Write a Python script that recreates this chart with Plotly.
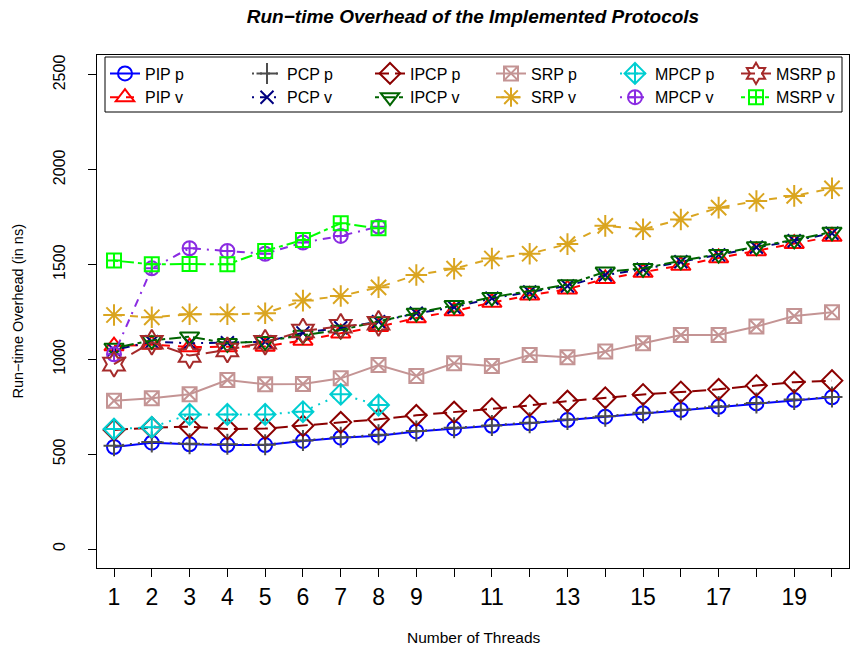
import plotly.graph_objects as go

# Thread counts
threads = list(range(1, 21))
threads_short = list(range(1, 9))

# Run-time overhead in ns, per protocol
pip_p = [538, 561, 552, 548, 548, 570, 587, 598, 620, 636, 650, 663, 680, 698, 716, 733, 750, 768, 786, 800]
pip_v = [1070, 1078, 1065, 1065, 1068, 1100, 1138, 1172, 1218, 1255, 1300, 1338, 1370, 1425, 1458, 1495, 1535, 1572, 1610, 1648]
pcp_p = [545, 565, 555, 552, 550, 572, 590, 602, 622, 640, 652, 666, 683, 700, 718, 735, 752, 770, 788, 802]
pcp_v = [1050, 1093, 1085, 1088, 1093, 1140, 1167, 1199, 1243, 1275, 1322, 1355, 1387, 1445, 1475, 1515, 1551, 1591, 1626, 1665]
ipcp_p = [628, 640, 645, 633, 635, 650, 668, 684, 705, 722, 740, 757, 780, 798, 815, 828, 842, 862, 880, 888]
ipcp_v = [1060, 1100, 1120, 1085, 1095, 1128, 1155, 1200, 1245, 1285, 1328, 1360, 1395, 1462, 1480, 1520, 1555, 1595, 1630, 1672]
srp_p = [782, 795, 816, 891, 869, 870, 900, 970, 913, 979, 965, 1023, 1011, 1041, 1085, 1129, 1129, 1173, 1229, 1248]
srp_v = [1234, 1222, 1238, 1238, 1243, 1310, 1334, 1380, 1445, 1478, 1532, 1557, 1608, 1704, 1686, 1738, 1800, 1835, 1862, 1902]
mpcp_p = [633, 642, 710, 710, 710, 724, 816, 759]
mpcp_v = [1027, 1480, 1586, 1572, 1557, 1616, 1651, 1700]
msrp_p = [975, 1090, 1020, 1050, 1090, 1150, 1175, 1190]
msrp_v = [1521, 1501, 1503, 1501, 1572, 1630, 1718, 1691]

# name, x, y, colour, symbol, dash, marker size, legend column
series = [
    ("PIP p", threads, pip_p, "#0000FF", "circle-open", "solid", 14, 1),
    ("PIP v", threads, pip_v, "#FF0000", "triangle-up-open", "8px,8px", 17, 1),
    ("PCP p", threads, pcp_p, "#4D4D4D", "cross-thin-open", "2px,6px", 15, 2),
    ("PCP v", threads, pcp_v, "#000080", "x-thin-open", "2px,6px,8px,6px", 13, 2),
    ("IPCP p", threads, ipcp_p, "#8B0000", "diamond-open", "14px,6px", 16, 3),
    ("IPCP v", threads, ipcp_v, "#006400", "triangle-down-open", "4px,4px,12px,4px", 17, 3),
    ("SRP p", threads, srp_p, "#C49494", "square-x-open", "solid", 14, 4),
    ("SRP v", threads, srp_v, "#DAA520", "asterisk-open", "8px,8px", 18, 4),
    ("MPCP p", threads_short, mpcp_p, "#00CED1", "diamond-cross-open", "2px,6px", 16, 5),
    ("MPCP v", threads_short, mpcp_v, "#8A2BE2", "circle-cross-open", "2px,6px,8px,6px", 14, 5),
    ("MSRP p", threads_short, msrp_p, "#A52A2A", "hexagram-open", "14px,6px", 19, 6),
    ("MSRP v", threads_short, msrp_v, "#00FF00", "square-cross-open", "4px,4px,12px,4px", 14, 6),
]

fig = go.Figure()
for name, xs, ys, color, symbol, dash, size, col in series:
    fig.add_trace(go.Scatter(
        x=xs, y=ys, name=name, mode="lines+markers",
        line=dict(color=color, width=2, dash=dash),
        marker=dict(symbol=symbol, size=size, color=color,
                    line=dict(color=color, width=2)),
        legend="legend" if col == 1 else f"legend{col}",
    ))

tick_vals = threads
tick_text = [str(t) if (t < 10 or t % 2 == 1) else "" for t in threads]

# plot area in pixels
PL, PR, PT, PB = 97, 849, 55, 568
PW, PH = PR - PL, PB - PT


def px_x(p):
    return (p - PL) / PW


def px_y(p):
    return (PB - p) / PH


# legend columns (left edge of each column, in pixels)
col_left = [105, 247, 370, 491, 615, 736]
legends = {}
for i, left in enumerate(col_left, start=1):
    key = "legend" if i == 1 else f"legend{i}"
    legends[key] = dict(
        orientation="v", x=px_x(left), y=px_y(56.5),
        xanchor="left", yanchor="top",
        bgcolor="rgba(0,0,0,0)", borderwidth=0,
        font=dict(size=16), tracegroupgap=0,
    )

fig.update_layout(
    width=850, height=650,
    margin=dict(l=PL, r=850 - PR, t=PT, b=650 - PB),
    paper_bgcolor="white", plot_bgcolor="white",
    font=dict(family="Liberation Sans, Arial, sans-serif", color="black"),
    title=dict(
        text="Run\u2212time Overhead of the Implemented Protocols",
        font=dict(size=19, weight="bold", style="italic"),
        x=(PL + PR) / 2 / 850, xanchor="center",
        y=1 - 16 / 650, yanchor="middle",
    ),
    showlegend=True,
    **legends,
)

# legend frame
fig.add_shape(
    type="rect", xref="paper", yref="paper",
    x0=px_x(105), x1=px_x(842), y0=px_y(112), y1=px_y(57),
    line=dict(color="black", width=1), fillcolor="white", layer="below",
)

fig.update_xaxes(
    range=[0.55, 20.45],
    tickmode="array", tickvals=tick_vals, ticktext=tick_text,
    ticks="outside", ticklen=8, tickcolor="black", tickwidth=1,
    tickfont=dict(size=23),
    showgrid=False, zeroline=False,
    showline=True, linecolor="black", linewidth=1, mirror=True,
)
fig.update_yaxes(
    range=[-100, 2605],
    tickmode="array", tickvals=[0, 500, 1000, 1500, 2000, 2500],
    ticks="outside", ticklen=8, tickcolor="black", tickwidth=1,
    tickfont=dict(size=16), tickangle=-90, ticklabelstandoff=17,
    showgrid=False, zeroline=False,
    showline=True, linecolor="black", linewidth=1, mirror=True,
)

fig.add_annotation(
    text="Number of Threads", xref="paper", yref="paper",
    x=0.5, y=0, yshift=-69, xanchor="center", yanchor="middle",
    showarrow=False, font=dict(size=15.5),
)
fig.add_annotation(
    text="Run\u2212time Overhead (in ns)", xref="paper", yref="paper",
    x=0, y=0.5, xshift=-80, xanchor="center", yanchor="middle",
    textangle=-90, showarrow=False, font=dict(size=14.5),
)

fig.write_html("out.html")
